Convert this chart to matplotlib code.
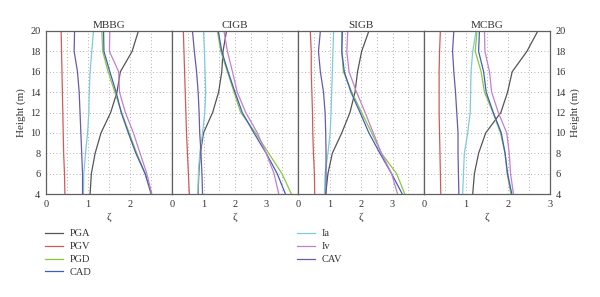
import matplotlib
matplotlib.use("Agg")
import matplotlib.pyplot as plt
from matplotlib.ticker import MultipleLocator

plt.rcParams['font.family'] = ['Liberation Serif', 'DejaVu Serif']

# data: heights (m) and zeta values per site (MBBG, CIGB, SIGB, MCBG)
sites = ["MBBG", "CIGB", "SIGB", "MCBG"]
heights = [4, 6, 8, 10, 12, 14, 16, 18, 20]
xmax = [3, 4, 4, 3]

pga = [[1.05, 1.08, 1.17, 1.31, 1.54, 1.69, 1.77, 2.05, 2.20],
       [0.83, 0.85, 0.90, 1.00, 1.29, 1.48, 1.58, 1.62, 1.73],
       [0.88, 0.95, 1.09, 1.39, 1.65, 1.81, 1.89, 2.02, 2.25],
       [1.16, 1.20, 1.30, 1.47, 1.83, 1.99, 2.10, 2.45, 2.71]]
pgv = [[0.45, 0.44, 0.42, 0.41, 0.40, 0.39, 0.38, 0.37, 0.36],
       [0.55, 0.52, 0.49, 0.46, 0.44, 0.42, 0.40, 0.38, 0.36],
       [0.53, 0.52, 0.49, 0.47, 0.46, 0.44, 0.42, 0.42, 0.39],
       [0.40, 0.39, 0.38, 0.37, 0.36, 0.36, 0.36, 0.37, 0.39]]
pgd = [[2.50, 2.36, 2.16, 1.98, 1.80, 1.64, 1.48, 1.35, 1.33],
       [3.79, 3.49, 3.07, 2.65, 2.18, 1.97, 1.76, 1.55, 1.44],
       [3.39, 3.13, 2.65, 2.34, 2.02, 1.71, 1.44, 1.39, 1.39],
       [2.07, 1.98, 1.93, 1.82, 1.64, 1.44, 1.36, 1.22, 1.26]]
cad = [[2.51, 2.36, 2.14, 1.96, 1.79, 1.67, 1.52, 1.38, 1.37],
       [3.60, 3.34, 2.99, 2.60, 2.23, 2.00, 1.78, 1.58, 1.47],
       [3.31, 2.97, 2.60, 2.25, 1.97, 1.68, 1.47, 1.39, 1.41],
       [2.09, 1.99, 1.93, 1.84, 1.65, 1.48, 1.42, 1.30, 1.32]]
ia = [[0.89, 0.90, 0.94, 0.99, 1.02, 1.03, 1.05, 1.09, 1.13],
      [0.82, 0.84, 0.88, 0.97, 1.04, 1.07, 1.05, 1.03, 1.00],
      [0.84, 0.86, 0.95, 1.02, 1.05, 1.07, 1.09, 1.11, 1.13],
      [0.92, 0.94, 0.96, 1.04, 1.10, 1.11, 1.12, 1.16, 1.24]]
iv = [[2.52, 2.40, 2.24, 2.08, 1.89, 1.75, 1.73, 1.51, 1.52],
      [3.39, 3.24, 2.99, 2.71, 2.34, 2.07, 1.92, 1.76, 1.65],
      [3.16, 2.97, 2.65, 2.39, 2.13, 1.86, 1.62, 1.55, 1.58],
      [2.13, 2.06, 2.03, 1.97, 1.77, 1.61, 1.56, 1.45, 1.44]]
cav = [[0.87, 0.87, 0.85, 0.83, 0.81, 0.79, 0.75, 0.67, 0.68],
       [0.97, 0.95, 0.92, 0.88, 0.86, 0.83, 0.78, 0.71, 0.65],
       [0.89, 0.89, 0.89, 0.88, 0.86, 0.81, 0.71, 0.65, 0.71],
       [0.83, 0.82, 0.81, 0.81, 0.78, 0.75, 0.71, 0.68, 0.71]]

series = [("PGA", pga, "#555555"), ("PGV", pgv, "#d05a5a"),
          ("PGD", pgd, "#8cc63f"), ("CAD", cad, "#3f5fc0"),
          ("Ia", ia, "#7fcbd8"), ("Iv", iv, "#c47fcc"),
          ("CAV", cav, "#6a5aa8")]

fig = plt.figure(figsize=(6.0, 2.97), dpi=100)
W, H = 600.0, 297.0
spine_c = "#606060"
text_c = "#333333"

handles = []
for i, site in enumerate(sites):
    ax = fig.add_axes([(46 + 126 * i) / W, (297 - 194) / H, 126 / W, 163 / H])
    for name, vals, col in series:
        ln, = ax.plot(vals[i], heights, color=col, lw=0.9, label=name)
        if i == 0:
            handles.append(ln)
    ax.set_xlim(0, xmax[i])
    ax.set_ylim(4, 20)
    ax.xaxis.set_major_locator(MultipleLocator(1))
    ax.xaxis.set_minor_locator(MultipleLocator(0.5))
    ax.yaxis.set_major_locator(MultipleLocator(2))
    ax.grid(True, which="both", axis="x", color="#999999", lw=0.6, ls=(0, (1, 3)))
    ax.grid(True, which="major", axis="y", color="#999999", lw=0.6, ls=(0, (1, 3)))
    ax.tick_params(which="both", direction="in", length=0, colors=text_c,
                   labelsize=7.5, pad=4)
    for s in ax.spines.values():
        s.set_color(spine_c)
        s.set_linewidth(0.9)
    # hide last x tick label where next panel starts
    if i < 3:
        ax.set_xticks(range(0, xmax[i]))
    else:
        ax.set_xticks(range(0, xmax[i] + 1))
    ax.set_title(site, fontsize=8, color=text_c, pad=2)
    ax.set_xlabel("ζ", fontsize=8, color=text_c, labelpad=3)
    if i == 0:
        ax.set_ylabel("Height (m)", fontsize=8, color=text_c, labelpad=3)
    elif i == 3:
        ax.yaxis.tick_right()
        ax.yaxis.set_label_position("right")
        ax.set_ylabel("Height (m)", fontsize=8, color=text_c, labelpad=3,
                      rotation=90)
    else:
        ax.set_yticklabels([])

leg_kw = dict(frameon=False, fontsize=7.5, handlelength=1.7, handletextpad=0.7,
              labelspacing=0.35, loc="upper left", borderaxespad=0, borderpad=0,
              labelcolor=text_c)
fig.legend(handles[:4], [h.get_label() for h in handles[:4]],
           bbox_to_anchor=(45 / W, 1 - 229 / H), **leg_kw)
fig.legend(handles[4:], [h.get_label() for h in handles[4:]],
           bbox_to_anchor=(297 / W, 1 - 229 / H), **leg_kw)

fig.savefig("out.png", dpi=100)
